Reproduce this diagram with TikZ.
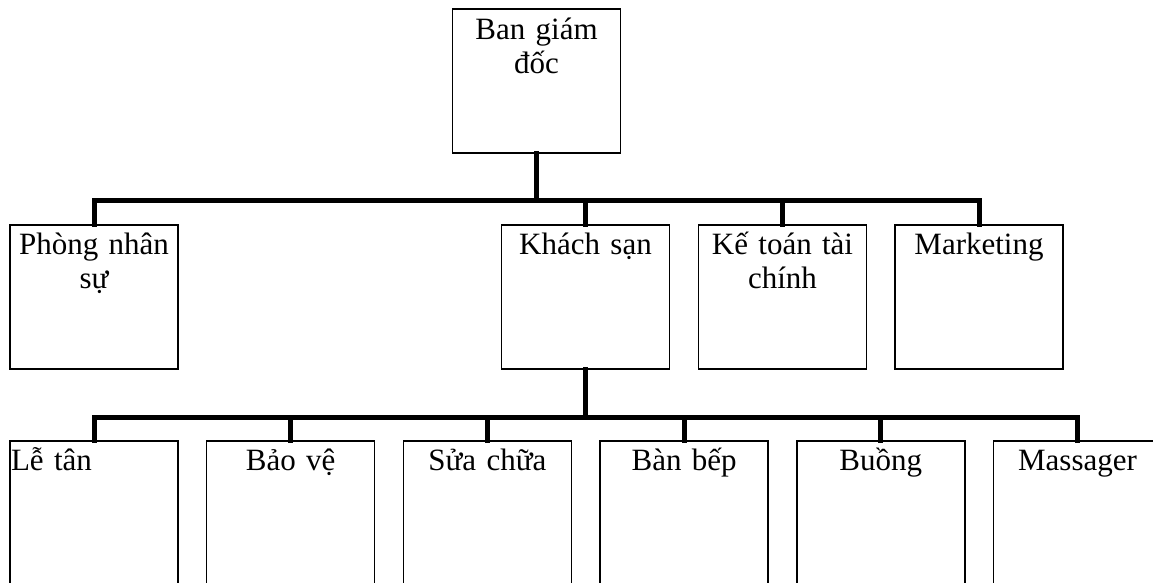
\documentclass[tikz,border=0pt]{standalone}
\usepackage{fontspec}
\setmainfont{Liberation Serif}
\begin{document}
\begin{tikzpicture}[x=1pt,y=-1pt,
  box/.style={draw,line width=1.5pt,minimum width=168pt,minimum height=144pt,inner sep=0pt,anchor=north},
  lowbox/.style={box,minimum height=220pt},
  lbl/.style={anchor=base,text width=168pt,align=center,inner sep=0pt,font=\fontsize{31}{34}\selectfont},
  conn/.style={line width=5pt,line join=miter,line cap=rect}]
\useasboundingbox (0,0) rectangle (1153,582);
\clip (0,0) rectangle (1153,582);
% boxes
\node[box] (top) at (536.5,8) {};
\node[box] (phong) at (94,224) {};
\node[box] (khach) at (585.5,224) {};
\node[box] (ketoan) at (782.5,224) {};
\node[box] (mkt) at (979,224) {};
\node[lowbox] (letan) at (94,440) {};
\node[lowbox] (baove) at (290.7,440) {};
\node[lowbox] (suachua) at (487.4,440) {};
\node[lowbox] (banbep) at (684.1,440) {};
\node[lowbox] (buong) at (880.8,440) {};
\node[lowbox] (massager) at (1077.5,440) {};
% labels
\node[lbl] (ttop) at ([yshift=-31pt]top.north) {Ban giám\\đốc};
\node[lbl] (tphong) at ([yshift=-30pt]phong.north) {Phòng nhân\\sự};
\node[lbl] (tkhach) at ([yshift=-30pt]khach.north) {Khách sạn};
\node[lbl] (tketoan) at ([yshift=-30pt]ketoan.north) {Kế toán tài\\chính};
\node[lbl] (tmkt) at ([yshift=-30pt]mkt.north) {Marketing};
\node[lbl,align=left] (tletan) at ([yshift=-30pt,xshift=1pt]letan.north) {Lễ tân};
\node[lbl] (tbaove) at ([yshift=-30pt]baove.north) {Bảo vệ};
\node[lbl] (tsuachua) at ([yshift=-30pt]suachua.north) {Sửa chữa};
\node[lbl] (tbanbep) at ([yshift=-30pt]banbep.north) {Bàn bếp};
\node[lbl] (tbuong) at ([yshift=-30pt]buong.north) {Buồng};
\node[lbl] (tmassager) at ([yshift=-30pt]massager.north) {Massager};
% buses
\coordinate (bus1) at (0,200);
\coordinate (bus2) at (0,417);
\draw[conn] (top.south) -- (top.south |- bus1);
\draw[conn] (phong.north) -- (phong.north |- bus1) -- (mkt.north |- bus1) -- (mkt.north);
\draw[conn] (khach.north) -- (khach.north |- bus1);
\draw[conn] (ketoan.north) -- (ketoan.north |- bus1);
\draw[conn] (khach.south) -- (khach.south |- bus2);
\draw[conn] (letan.north) -- (letan.north |- bus2) -- (massager.north |- bus2) -- (massager.north);
\draw[conn] (baove.north) -- (baove.north |- bus2);
\draw[conn] (suachua.north) -- (suachua.north |- bus2);
\draw[conn] (banbep.north) -- (banbep.north |- bus2);
\draw[conn] (buong.north) -- (buong.north |- bus2);
\end{tikzpicture}
\end{document}
